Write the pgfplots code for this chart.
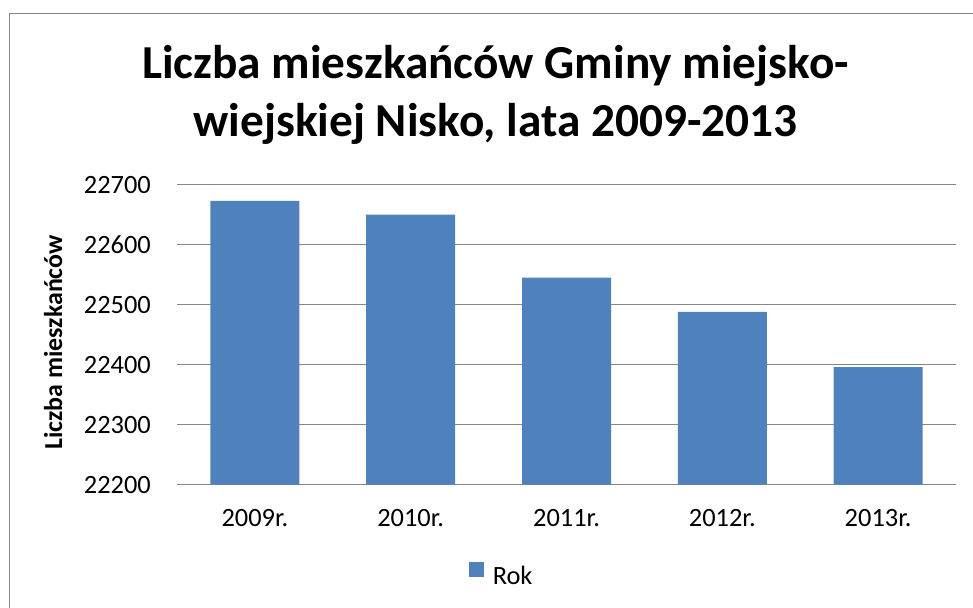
\documentclass[border=0pt]{standalone}
\usepackage{fontspec}
\setmainfont{Carlito}
\usepackage{pgfplots}
\pgfplotsset{compat=1.18}
\definecolor{barblue}{RGB}{79,129,189}
\definecolor{gridgray}{RGB}{134,134,134}
\begin{document}
\begin{tikzpicture}[x=1bp,y=1bp]
\path[use as bounding box] (0,0) rectangle (973,608);
\draw[gridgray, line width=1.5bp] (9.5,-20) -- (9.5,594.7) -- (1000,594.7);
\node[align=center, font=\fontsize{47.5}{59}\selectfont\bfseries, anchor=base] at (495.5,471) {Liczba mieszkańców Gminy miejsko-\\wiejskiej Nisko, lata 2009-2013};
\begin{axis}[
  at={(177bp,123.3bp)}, anchor=south west,
  scale only axis, width=779bp, height=300bp,
  xmin=-0.5, xmax=4.5, ymin=22200, ymax=22700,
  ytick={22200,22300,...,22700},
  scaled y ticks=false,
  xtick={0,1,2,3,4},
  xticklabels={2009r.,2010r.,2011r.,2012r.,2013r.},
  /pgf/number format/.cd, fixed, precision=0, 1000 sep={}, assume math mode=true, /pgfplots/.cd,
  ymajorgrids, grid style={gridgray, line width=1.5bp},
  axis line style={draw=none},
  major tick length=0pt,
  tick label style={font=\fontsize{26.5}{30}\selectfont, inner sep=0pt},
  yticklabel style={anchor=east, xshift=-26bp},
  xticklabel style={anchor=base, yshift=-42.3bp},
  ylabel={Liczba mieszkańców},
  ylabel style={font=\fontsize{26}{30}\selectfont\bfseries, at={(axis description cs:-0.1476,0.474)}, anchor=base, inner sep=0pt},
  legend style={at={(axis description cs:0.418,-0.301)}, anchor=center, draw=none, font=\fontsize{26.5}{30}\selectfont, legend cell align=left, nodes={inner xsep=4bp}},
  legend image code/.code={\fill[barblue] (0bp,0bp) rectangle (15bp,15bp); \path (20bp,0bp);},
]
\addplot[ybar, bar width=89bp, fill=barblue, draw=none] coordinates {(0,22673) (1,22650) (2,22545) (3,22488) (4,22396)};
\addlegendentry{Rok}
\end{axis}
\end{tikzpicture}
\end{document}
